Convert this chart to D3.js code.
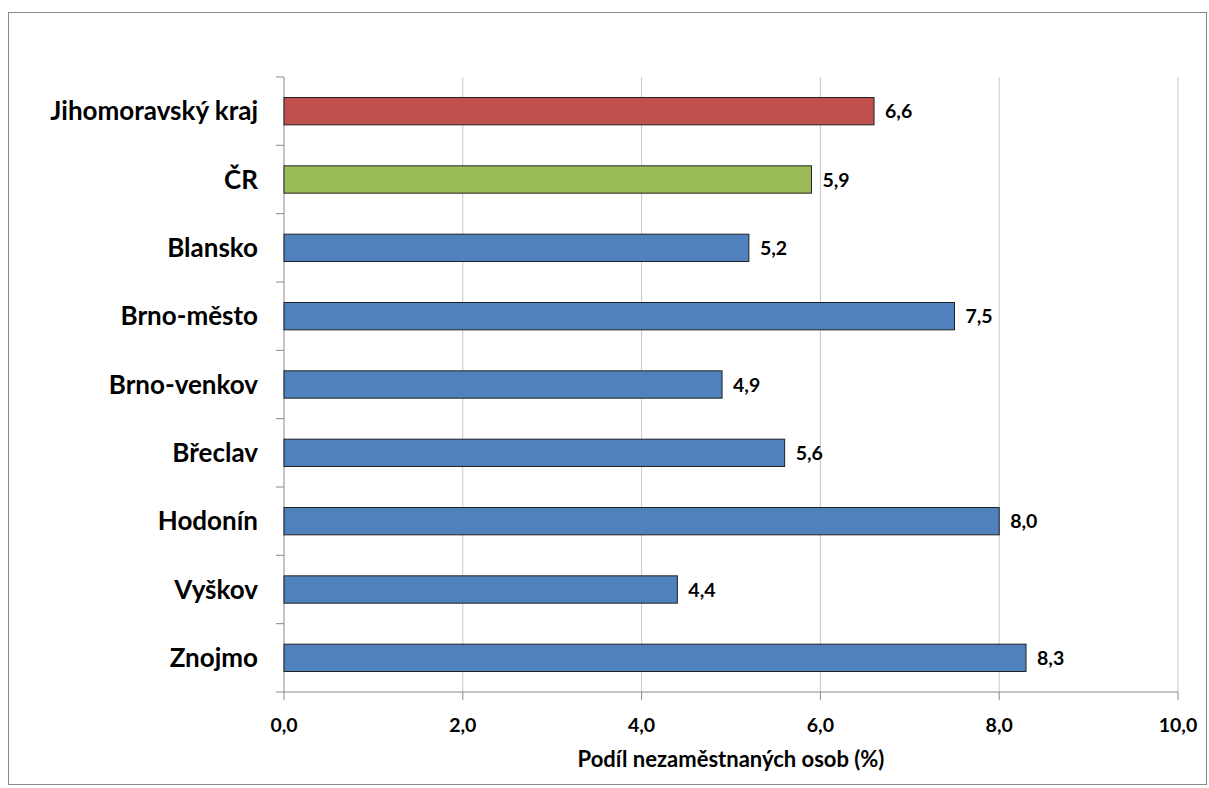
<!DOCTYPE html>
<html><head><meta charset="utf-8">
<script src="https://cdn.jsdelivr.net/npm/d3@7"></script>
<style>body{margin:0;background:#fff}text{font-family:Lato,"Open Sans",sans-serif;font-weight:bold;fill:#000}</style>
</head><body><svg id="c" width="1209" height="788"></svg>
<script>
const categories=["Jihomoravský kraj","ČR","Blansko","Brno-město","Brno-venkov","Břeclav","Hodonín","Vyškov","Znojmo"];
const values=[6.6,5.9,5.2,7.5,4.9,5.6,8.0,4.4,8.3];
const colors=["#C0504D","#9BBB59","#4F81BD","#4F81BD","#4F81BD","#4F81BD","#4F81BD","#4F81BD","#4F81BD"];
const xTicks=[0,2,4,6,8,10];
const xTitle="Podíl nezaměstnaných osob (%)";
const svg=d3.select("#c");
svg.append("rect").attr("x",8.5).attr("y",12.5).attr("width",1198).attr("height",772).attr("fill","none").attr("stroke","#888");
const L=284,R=1178,T=77,B=692;
const x=d3.scaleLinear().domain([0,10]).range([L,R]);
const y=d3.scaleBand().domain(categories).range([T,B]).paddingInner(0.6).paddingOuter(0.3);
const yb=d3.scaleBand().domain(categories).range([T,B]);
svg.selectAll(".g").data(xTicks.slice(1)).join("line").attr("x1",d=>x(d)).attr("x2",d=>x(d)).attr("y1",T).attr("y2",B).attr("stroke","#c8c8c8");
svg.append("line").attr("x1",L).attr("x2",L).attr("y1",T).attr("y2",B).attr("stroke","#888");
svg.append("line").attr("x1",L).attr("x2",R).attr("y1",B).attr("y2",B).attr("stroke","#888");
svg.selectAll(".yt").data(categories).join("line").attr("x1",L-8).attr("x2",L).attr("y1",d=>yb(d)).attr("y2",d=>yb(d)).attr("stroke","#888");
svg.append("line").attr("x1",L-8).attr("x2",L).attr("y1",B).attr("y2",B).attr("stroke","#888");
svg.selectAll(".xt").data(xTicks).join("line").attr("x1",d=>x(d)).attr("x2",d=>x(d)).attr("y1",B).attr("y2",B+8).attr("stroke","#888");
svg.selectAll(".xl").data(xTicks).join("text").attr("x",d=>x(d)).attr("y",732).attr("text-anchor","middle").attr("font-size",19.5).text(d=>d.toFixed(1).replace(".",","));
svg.append("text").attr("x",731).attr("y",767).attr("text-anchor","middle").attr("font-size",22).text(xTitle);
svg.selectAll(".bar").data(categories).join("rect").attr("x",L).attr("y",d=>y(d)).attr("width",(d,i)=>x(values[i])-L).attr("height",y.bandwidth()).attr("fill",(d,i)=>colors[i]).attr("stroke","#222").attr("stroke-width",1);
svg.selectAll(".cl").data(categories).join("text").attr("x",258).attr("y",d=>yb(d)+yb.bandwidth()/2+9).attr("text-anchor","end").attr("font-size",26).text(d=>d);
svg.selectAll(".vl").data(categories).join("text").attr("x",(d,i)=>x(values[i])+11).attr("y",d=>yb(d)+yb.bandwidth()/2+7).attr("font-size",19.5).text((d,i)=>values[i].toFixed(1).replace(".",","));
</script></body></html>
